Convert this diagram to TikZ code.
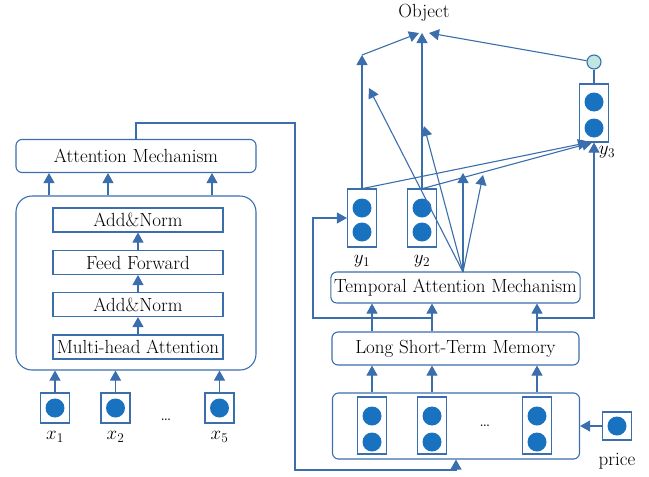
\RequirePackage{fix-cm}
\documentclass[tikz,border=0pt]{standalone}
\usepackage{fontspec}
\usetikzlibrary{arrows.meta,positioning,calc}
\definecolor{linblue}{RGB}{58,110,172}
\definecolor{dotblue}{RGB}{25,114,192}
\definecolor{tealdot}{RGB}{192,230,226}

\tikzset{
  every node/.style={font=\fontsize{19}{22}\selectfont, text=black},
  box/.style={draw=linblue, line width=1.1pt, rounded corners=6pt, minimum width=247pt, minimum height=32pt},
  layer/.style={draw=linblue, line width=1.1pt, minimum width=170pt, minimum height=24pt, inner sep=0pt},
  cell/.style={draw=linblue, line width=1.1pt, minimum width=29pt, inner sep=0pt},
  dot/.style={circle, fill=dotblue, inner sep=0pt, minimum size=19pt},
  link/.style={linblue, line width=1.1pt, -{Triangle[width=11pt,length=10pt]}},
  wire/.style={linblue, line width=1.1pt},
}

\begin{document}
\begin{tikzpicture}[x=1pt,y=-1pt]
  \useasboundingbox (0,0) rectangle (649,477);

  % encoder side
  \node (attn) [box, minimum width=240pt, minimum height=33pt] at (136,156) {Attention Mechanism};
  \node (enc) [draw=linblue, line width=1.1pt, rounded corners=16pt, minimum width=240pt, minimum height=174pt] at (136,283) {};
  \node (an2) [layer] at (138,220) {Add\&Norm};
  \node (ff)  [layer] at (138,262.5) {Feed Forward};
  \node (an1) [layer] at (138,304.5) {Add\&Norm};
  \node (mha) [layer] at (138,347) {Multi-head Attention};

  \draw[link] (mha) -- (an1);
  \draw[link] (an1) -- (ff);
  \draw[link] (ff) -- (an2);
  \foreach \dx in {-87,-28,76}
    \draw[link] ([xshift=\dx pt]enc.north) -- ([xshift=\dx pt]attn.south);

  \foreach \n/\px in {1/55,2/115.5,5/219.5} {
    \node (x\n) [cell, minimum height=30pt] at (\px,408) {};
    \node (xd\n) [dot] at (x\n) {};
    \node (xl\n) at (\px,437) {$x_\n$};
    \draw[link] (x\n) -- (x\n |- enc.south);
  }
  \node (xdots) at (166,420) {\dots};

  % decoder side
  \node (inbox) [box, minimum height=66pt] at (456,426) {};
  \foreach \n/\px in {1/372,2/432,3/537} {
    \node (c\n) [cell, minimum height=57pt] at (\px,425.5) {};
    \node (cda\n) [dot] at (\px,416) {};
    \node (cdb\n) [dot] at (\px,442) {};
  }
  \node (cdots) at (485,426) {\dots};

  \node (price) [cell, minimum height=28pt] at (617,426) {};
  \node (pd) [dot] at (price) {};
  \node (pl) at (617,461) {price};
  \draw[link] (price) -- (inbox.east |- price);

  \node (lstm) [box, minimum height=33pt] at (455.5,348.5) {Long Short-Term Memory};
  \node (tam) [box, minimum height=31pt] at (455.5,287.5) {Temporal Attention Mechanism};

  \foreach \n in {1,2,3} {
    \draw[link] (c\n |- inbox.north) -- (c\n |- lstm.south);
    \draw[link] (c\n |- lstm.north) -- (c\n |- tam.south);
  }

  \node (yb1) [cell, minimum height=58pt] at (362,218) {};
  \node (yd1a) [dot] at (362,208) {};
  \node (yd1b) [dot] at (362,232) {};
  \node (yl1) at (362,261) {$y_1$};
  \node (yb2) [cell, minimum height=58pt] at (422,218) {};
  \node (yd2a) [dot] at (422,208) {};
  \node (yd2b) [dot] at (422,232) {};
  \node (yl2) at (422,261) {$y_2$};
  \node (yb3) [cell, minimum height=58pt] at (594,113) {};
  \node (yd3a) [dot] at (594,102) {};
  \node (yd3b) [dot] at (594,128) {};
  \node (yl3) at (607,152) {$y_3$};

  \node (yout) [circle, draw=linblue, line width=1.1pt, fill=tealdot, inner sep=0pt, minimum size=14pt] at (594,62) {};
  \draw[wire] (yout) -- (yb3);

  \node (obj) at (424,13) {Object};
  \coordinate (objin) at (424,33);
  \coordinate (bend1) at (362,55);
  \draw[link] (yb2.north) -- (yb2.north |- objin);
  \draw[link] (yb1.north) -- (bend1);
  \draw[link] (bend1) -- ([xshift=-5pt]objin);
  \draw[link] (yout) -- ([xshift=5pt]objin);

  \draw[link] ([xshift=1pt]yb1.north) -- ([xshift=-6pt]yb3.south);
  \draw[link] ([xshift=1pt]yb2.north) -- ([xshift=-2pt]yb3.south);

  \coordinate (apex) at (463,272);
  \coordinate (fan1) at (369,88);
  \coordinate (fan2) at (424,126);
  \coordinate (fan3) at (463,173);
  \coordinate (fan4) at (483,175);
  \foreach \n in {1,...,4}
    \draw[link] (apex) -- (fan\n);

  \coordinate (tapL) at (313,318);
  \draw[link] (c2 |- tapL) -- (tapL) |- (yb1.west);
  \coordinate (tapR) at (594,318);
  \draw[link] (c3 |- tapR) -- (tapR) -- (yb3.south);

  % link from encoder
  \coordinate (turnA) at (295,123);
  \coordinate (turnB) at (295,470);
  \draw[link] (attn.north) |- (turnA) -- (turnB) -| (inbox.south);
\end{tikzpicture}
\end{document}
